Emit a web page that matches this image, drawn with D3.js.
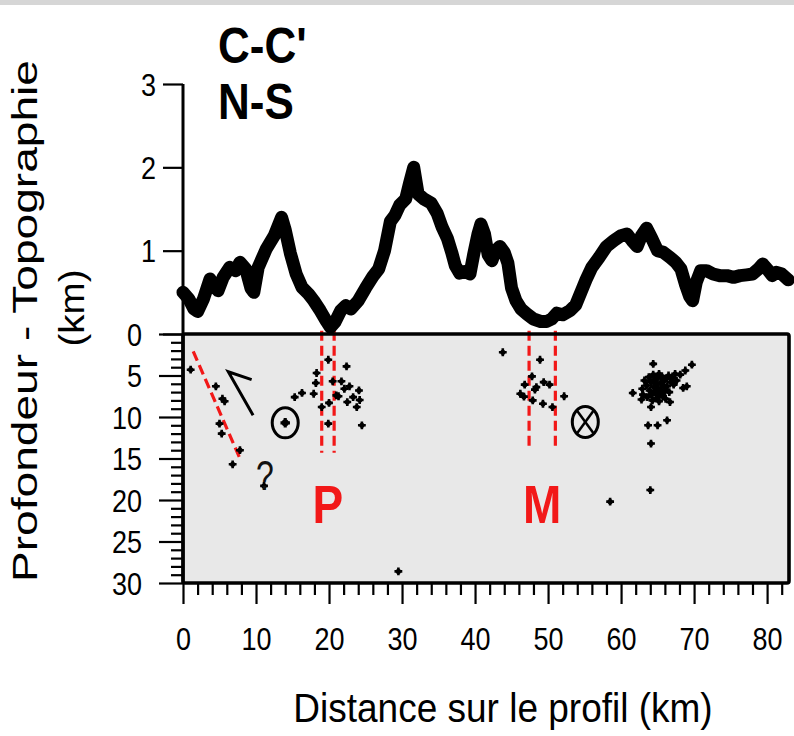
<!DOCTYPE html>
<html><head><meta charset="utf-8">
<script src="https://cdn.jsdelivr.net/npm/d3@7"></script>
<style>
body{margin:0;background:#fff}
svg{display:block}
text{font-family:"Liberation Sans",Arial,Helvetica,sans-serif}
</style>
</head><body>
<svg id="chart" width="794" height="736"></svg>
<script>
// ---------- DATA ----------
const topoKm = [0,0.8,1.5,2.0,2.8,3.7,4.3,4.8,5.5,6.4,7.2,7.8,8.6,9.3,9.7,10.3,11.4,12.5,13.5,14.0,14.7,15.5,16.3,17.2,17.9,18.8,19.6,20.2,20.8,21.6,22.3,23.0,24.0,25.0,26.0,26.8,27.6,28.4,29.0,29.7,30.5,31.0,31.6,32.2,33.0,34.0,34.8,35.5,36.2,36.8,37.3,37.9,38.6,39.3,39.8,40.4,40.8,41.3,41.8,42.3,42.8,43.4,44.0,44.5,45.0,45.6,46.3,47.1,48.0,49.0,49.8,50.5,51.2,52.0,53.0,53.8,54.5,55.2,56.0,57.0,58.0,59.0,60.0,60.8,61.5,62.2,62.8,63.5,64.2,65.0,65.8,66.7,67.5,68.2,68.8,69.4,69.8,70.3,70.9,71.7,72.6,73.5,74.5,75.4,76.3,77.2,78.0,78.8,79.4,80.0,80.7,81.3,82.0,82.9];
const topoElev = [0.50,0.42,0.30,0.27,0.42,0.66,0.58,0.52,0.68,0.80,0.76,0.86,0.78,0.55,0.50,0.80,1.02,1.18,1.40,1.25,0.97,0.72,0.56,0.48,0.40,0.28,0.16,0.08,0.14,0.28,0.34,0.30,0.40,0.55,0.69,0.78,1.00,1.35,1.42,1.55,1.62,1.80,2.00,1.68,1.62,1.57,1.45,1.28,1.15,0.98,0.82,0.73,0.75,0.72,0.95,1.20,1.32,1.20,0.95,0.88,1.00,1.05,0.98,0.85,0.55,0.40,0.30,0.24,0.18,0.15,0.15,0.18,0.25,0.23,0.28,0.35,0.50,0.65,0.80,0.92,1.05,1.12,1.18,1.20,1.12,1.05,1.18,1.27,1.15,1.00,0.98,0.92,0.86,0.78,0.60,0.45,0.40,0.62,0.76,0.76,0.72,0.70,0.70,0.68,0.70,0.71,0.72,0.78,0.84,0.78,0.70,0.74,0.72,0.65];

const quakeKm = [1.05,4.5,5.4,5.7,5.0,5.3,7.8,6.8,11.1,
  15.3,16.3,17.9,18.2,18.3,19.0,19.9,20.0,19.9,20.5,21.3,21.7,22.4,22.5,22.8,23.3,23.8,24.1,24.2,24.5,21.0,22.1,
  29.5,
  43.8,48.9,47.8,46.8,48.2,48.4,49.4,50.2,46.2,46.7,47.9,49.3,50.6,52.2,
  58.5,64.0,64.1,63.7,65.0,66.3,61.6,62.8,64.1,66.7,64.4,69.7,68.8,68.1,69.0,68.5,
  63.2,63.5,63.8,63.9,64.1,64.2,64.4,64.5,64.6,64.7,64.8,64.9,65.0,65.1,65.2,65.3,65.4,65.5,65.6,65.7,65.8,65.9,66.0,66.2,66.3,66.5,66.6,66.8,67.0,67.2,67.4,67.6,63.6,64.3,65.2,66.1,62.9,63.0];
const quakeDepth = [4.3,6.3,7.8,8.1,10.8,12.0,14.0,15.7,18.3,
  7.6,7.1,7.2,5.9,4.7,8.8,3.1,8.3,10.8,5.7,7.5,5.7,3.9,8.2,6.3,7.6,8.8,6.8,7.95,11.0,7.4,6.6,
  28.6,
  2.2,3.1,5.1,6.1,6.7,6.4,5.8,6.1,7.2,7.55,8.0,8.4,8.8,7.5,
  20.2,18.8,13.2,11.0,11.0,10.4,7.1,7.9,8.8,8.2,3.6,3.7,4.4,4.9,6.3,6.5,
  5.6,6.2,5.2,6.8,5.8,7.3,4.9,6.4,5.5,7.0,6.0,7.7,5.3,6.6,4.8,7.2,5.9,6.8,5.1,7.5,6.2,5.6,6.9,5.4,6.3,5.0,7.0,5.8,5.3,6.1,4.8,5.6,7.6,8.0,8.1,7.8,6.6,7.3];

const xTickValues = [0,10,20,30,40,50,60,70,80];
const depthTickValues = [0,5,10,15,20,25,30];
const elevTickValues = [0,1,2,3];
const faultP = [19.0, 20.7];
const faultM = [47.4, 51.0];
const faultLabels = ["P","M"];

// ---------- SETUP ----------
const svg = d3.select("#chart");
const x = d3.scaleLinear().domain([0,83]).range([183,789]);
const elev = d3.scaleLinear().domain([0,3]).range([334,84]);
const depth = d3.scaleLinear().domain([0,30]).range([334,583]);
const RED = "#f21818";

// top texture strip
svg.append("rect").attr("x",0).attr("y",0).attr("width",794).attr("height",5).attr("fill","#d6d6d6");

// box
svg.append("rect").attr("x",x(0)).attr("y",depth(0)).attr("width",x(83)-x(0)).attr("height",depth(30)-depth(0))
  .attr("fill","#e8e8e8");

// dashed fault lines
function dashed(x1,y1,x2,y2){
  svg.append("line").attr("x1",x1).attr("y1",y1).attr("x2",x2).attr("y2",y2)
    .attr("stroke",RED).attr("stroke-width",3.2).attr("stroke-dasharray","10,5");
}
faultP.forEach(k=>dashed(x(k),depth(-0.4),x(k),depth(14.3)));
faultM.forEach(k=>dashed(x(k),depth(-0.4),x(k),depth(13.8)));
dashed(x(1.4),depth(2.1),x(7.8),depth(15.0));

// labels P, M
[[d3.mean(faultP),faultLabels[0]],[d3.mean(faultM),faultLabels[1]]].forEach(([k,t])=>{
  svg.append("text").attr("transform",`translate(${x(k)},${depth(22.8)}) scale(1,1.15)`)
    .attr("text-anchor","middle").attr("font-size",46).attr("font-weight","bold").attr("fill",RED).text(t);
});

// quakes
const sym = d3.symbol().type(d3.symbolCross).size(34);
const qg = svg.append("g");
quakeKm.forEach((k,i)=>{
  const g = qg.append("g").attr("transform",`translate(${x(k)},${depth(quakeDepth[i])})`);
  g.append("path").attr("d",sym()).attr("fill","#000");
  g.append("circle").attr("r",2.6).attr("fill","#000");
});

// symbols: out-of-plane (dot) and into-plane (cross)
const s1x = x(14.0), s1y = depth(10.7);
svg.append("ellipse").attr("cx",s1x).attr("cy",s1y).attr("rx",13).attr("ry",15).attr("fill","none").attr("stroke","#000").attr("stroke-width",3);
svg.append("path").attr("transform",`translate(${s1x},${s1y})`).attr("d",d3.symbol().type(d3.symbolCross).size(50)()).attr("fill","#000");
svg.append("circle").attr("cx",s1x).attr("cy",s1y).attr("r",3.5).attr("fill","#000");
const s2x = x(55.1), s2y = depth(10.6);
svg.append("ellipse").attr("cx",s2x).attr("cy",s2y).attr("rx",13).attr("ry",15.5).attr("fill","none").attr("stroke","#000").attr("stroke-width",3);
[-1,1].forEach(a=>{
  svg.append("line").attr("x1",s2x-a*8).attr("y1",s2y-11).attr("x2",s2x+a*8).attr("y2",s2y+11)
    .attr("stroke","#000").attr("stroke-width",2.5);
});

// harpoon arrow
svg.append("path")
  .attr("d",`M${x(9.4)},${depth(5.5)} L${x(6.2)},${depth(4.55)} L${x(9.6)},${depth(9.8)}`)
  .attr("fill","none").attr("stroke","#000").attr("stroke-width",3).attr("stroke-linejoin","miter");

// question mark
svg.append("text").attr("transform",`translate(${x(11.2)},${depth(18.4)+3}) scale(1,1.35)`)
  .attr("text-anchor","middle").attr("font-size",32).attr("fill","#111").text("?");

// box border
svg.append("rect").attr("x",x(0)).attr("y",depth(0)).attr("width",x(83)-x(0)).attr("height",depth(30)-depth(0))
  .attr("fill","none").attr("stroke","#000").attr("stroke-width",3.6).attr("rx",2);

// left axis line
svg.append("line").attr("x1",x(0)).attr("x2",x(0)).attr("y1",elev(3)).attr("y2",depth(30)).attr("stroke","#000").attr("stroke-width",3);

// elevation axis
const ea = svg.append("g").attr("transform",`translate(${x(0)},0)`)
  .call(d3.axisLeft(elev).tickValues(elevTickValues).tickSize(20).tickPadding(7).tickFormat(d=>d===0?"":d));
// depth axis
const da = svg.append("g").attr("transform",`translate(${x(0)},0)`)
  .call(d3.axisLeft(depth).tickValues(depthTickValues).tickSize(24).tickPadding(17));
const dm = svg.append("g").attr("transform",`translate(${x(0)},0)`)
  .call(d3.axisLeft(depth).tickValues(d3.range(0,31).filter(v=>v%5)).tickSize(12).tickFormat(""));
// x axis
const xa = svg.append("g").attr("transform",`translate(0,${depth(30)})`)
  .call(d3.axisBottom(x).tickValues(xTickValues).tickSize(21).tickPadding(20));
const xm = svg.append("g").attr("transform",`translate(0,${depth(30)})`)
  .call(d3.axisBottom(x).tickValues(d3.range(2,83,2).filter(v=>v%10)).tickSize(12).tickFormat(""));

[ea,da,dm,xa,xm].forEach(g=>{
  g.select(".domain").remove();
  g.selectAll(".tick line").attr("stroke","#000").attr("stroke-width",2.2);
  g.selectAll(".tick text").attr("font-size",27).attr("fill","#000")
    .style("font-family",'"Liberation Sans",Arial,sans-serif');
});
// slightly tall tick labels
ea.selectAll(".tick text").attr("x",null).attr("dy",null).attr("transform","translate(-27,11) scale(1,1.15)");
da.selectAll(".tick text").attr("x",null).attr("dy",null).attr("transform","translate(-41,11) scale(1,1.15)");
xa.selectAll(".tick text").attr("y",null).attr("dy",null).attr("transform","translate(0,67) scale(1,1.15)");

// topography
const line = d3.line().x(d=>x(d[0])).y(d=>elev(d[1]));
svg.append("path").datum(topoKm.map((k,i)=>[k,topoElev[i]]))
  .attr("d",line).attr("fill","none").attr("stroke","#000").attr("stroke-width",13)
  .attr("stroke-linejoin","round").attr("stroke-linecap","round");

// titles
svg.append("text").attr("transform","translate(218,63) scale(1,1.14)").attr("font-size",44).attr("font-weight","bold").text("C-C'");
svg.append("text").attr("transform","translate(218,119) scale(1,1.14)").attr("font-size",44).attr("font-weight","bold").text("N-S");

// axis titles
svg.append("text").attr("transform","translate(503,722) scale(1,1.08)").attr("text-anchor","middle").attr("font-size",37).text("Distance sur le profil (km)");
svg.append("text").attr("transform","translate(37,321) rotate(-90)").attr("text-anchor","middle")
  .attr("font-size",35).attr("textLength",522).attr("lengthAdjust","spacingAndGlyphs").text("Profondeur  - Topographie");
svg.append("text").attr("transform","translate(84,308) rotate(-90)").attr("text-anchor","middle")
  .attr("font-size",35).attr("textLength",77).attr("lengthAdjust","spacingAndGlyphs").text("(km)");
</script>
</body></html>
